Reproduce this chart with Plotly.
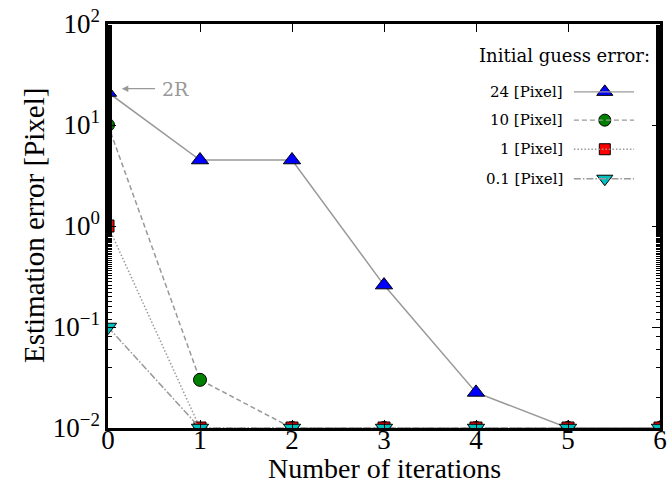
import plotly.graph_objects as go

# Iteration index and estimation error for each initial guess error
iterations = [0, 1, 2, 3, 4, 5, 6]
err_24 = [21.0, 4.5, 4.5, 0.26, 0.0225, 0.01, 0.01]
err_10 = [10.0, 0.03, 0.01, 0.01, 0.01, 0.01, 0.01]
err_1 = [1.0, 0.01, 0.01, 0.01, 0.01, 0.01, 0.01]
err_01 = [0.1, 0.01, 0.01, 0.01, 0.01, 0.01, 0.01]

series_labels = ["24 [Pixel]", "10 [Pixel]", "1 [Pixel]", "0.1 [Pixel]"]
y_tick_vals = [0.01, 0.1, 1, 10, 100]
y_tick_text = ["10<sup>\u22122</sup>", "10<sup>\u22121</sup>", "10<sup>0</sup>",
               "10<sup>1</sup>", "10<sup>2</sup>"]

FONT = "DejaVu Serif"
AXFONT = "Liberation Serif"
LINE_GRAY = "#999999"

styles = [
    dict(dash="solid", symbol="triangle-up", color="#0000ff", size=15),
    dict(dash="5px,3px", symbol="circle", color="#008000", size=13),
    dict(dash="1.5px,2px", symbol="square", color="#ff0000", size=12),
    dict(dash="7px,2px,1.5px,2px", symbol="triangle-down", color="#00bfbf", size=15),
]

fig = go.Figure()
for ys, st, name in zip([err_24, err_10, err_1, err_01], styles, series_labels):
    fig.add_trace(go.Scatter(
        x=iterations, y=ys, mode="lines+markers", name=name, showlegend=False,
        line=dict(color=LINE_GRAY, width=1.5, dash=st["dash"]),
        marker=dict(symbol=st["symbol"], color=st["color"], size=st["size"],
                    line=dict(color="black", width=1)),
        cliponaxis=True,
    ))

# Hand-built legend: labels on the left, line sample with marker on the right
legend_y = [0.832, 0.762, 0.69, 0.617]
for ly, st, name in zip(legend_y, styles, series_labels):
    fig.add_shape(type="line", xref="paper", yref="paper",
                  x0=0.844, x1=0.953, y0=ly, y1=ly,
                  line=dict(color=LINE_GRAY, width=1.3, dash=st["dash"]))
    fig.add_trace(go.Scatter(
        x=[0.9], y=[ly], xaxis="x2", yaxis="y2", mode="markers",
        showlegend=False, hoverinfo="skip",
        marker=dict(symbol=st["symbol"], color=st["color"], size=st["size"] - 1,
                    line=dict(color="black", width=1)),
    ))
    fig.add_annotation(x=0.828, y=ly, xref="paper", yref="paper",
                       text=name, showarrow=False, xanchor="right", yanchor="middle",
                       font=dict(family=FONT, size=15, color="black"))

fig.add_annotation(x=0.985, y=0.923, xref="paper", yref="paper",
                   text="Initial guess error:", showarrow=False,
                   xanchor="right", yanchor="middle",
                   font=dict(family=FONT, size=18, color="black"))

# Callout for the largest initial error
fig.add_annotation(x=0.025, y=0.84, xref="x2", yref="y2",
                   ax=0.088, ay=0.84, axref="x2", ayref="y2",
                   text="", showarrow=True, arrowhead=2, arrowsize=1,
                   arrowwidth=1.3, arrowcolor=LINE_GRAY)
fig.add_annotation(x=0.095, y=0.838, xref="paper", yref="paper",
                   text="2R", showarrow=False, xanchor="left", yanchor="middle",
                   font=dict(family=FONT, size=19, color=LINE_GRAY))

# Axis titles
fig.add_annotation(x=0.5, y=0, xref="paper", yref="paper", yshift=-40,
                   text="Number of iterations", showarrow=False,
                   xanchor="center", yanchor="middle",
                   font=dict(family=AXFONT, size=28, color="black"))
fig.add_annotation(x=0, y=0.5, xref="paper", yref="paper", xshift=-74,
                   text="Estimation error [Pixel]", showarrow=False, textangle=-90,
                   xanchor="center", yanchor="middle",
                   font=dict(family=AXFONT, size=29, color="black"))

fig.update_layout(
    width=669, height=483,
    margin=dict(l=108, r=9, t=24, b=55, autoexpand=False),
    plot_bgcolor="white", paper_bgcolor="white",
    font=dict(family=AXFONT, color="black"),
    xaxis=dict(
        range=[0, 6], tickvals=iterations, ticks="inside", ticklen=8,
        tickwidth=1, tickcolor="black", automargin=False, ticklabelstandoff=-14,
        showline=True, linecolor="black", linewidth=2.5, mirror="ticks",
        showgrid=False, zeroline=False,
        tickfont=dict(family=AXFONT, size=27),
    ),
    yaxis=dict(
        type="log", range=[-2, 2], tickvals=y_tick_vals, ticktext=y_tick_text,
        ticks="inside", ticklen=8, tickwidth=1, tickcolor="black", automargin=False,
        minor=dict(ticks="inside", ticklen=4, tickcolor="black", showgrid=False),
        showline=True, linecolor="black", linewidth=2.5, mirror="ticks",
        showgrid=False, zeroline=False,
        tickfont=dict(family=AXFONT, size=27),
    ),
    xaxis2=dict(range=[0, 1], overlaying="x", visible=False, domain=[0, 1]),
    yaxis2=dict(range=[0, 1], overlaying="y", visible=False),
)

fig.write_html("out.html")
